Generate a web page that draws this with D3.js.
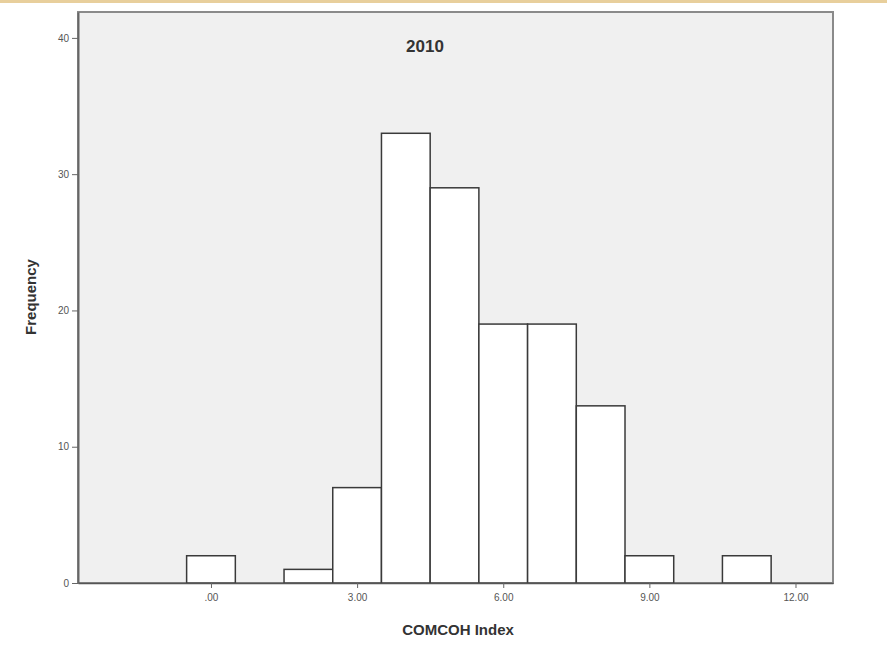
<!DOCTYPE html>
<html>
<head>
<meta charset="utf-8">
<script src="https://cdn.jsdelivr.net/npm/d3@7"></script>
<style>
  body { margin: 0; background: #fff; }
  svg { display: block; font-family: Arial, "Liberation Sans", sans-serif; }
</style>
</head>
<body>
<div id="chart"></div>
<script>
// Histogram bins (bin centre on COMCOH Index) and frequencies
const binCenters = [0, 1, 2, 3, 4, 5, 6, 7, 8, 9, 10, 11];
const frequencies = [2, 0, 1, 7, 33, 29, 19, 19, 13, 2, 0, 2];
const xTicks = [0, 3, 6, 9, 12];
const xTickLabels = ['.00', '3.00', '6.00', '9.00', '12.00'];
const yTicks = [0, 10, 20, 30, 40];

const width = 887;
const height = 655;
const margin = { top: 12, right: 54, bottom: 72, left: 78 };

const svg = d3.select('#chart')
    .append('svg')
    .attr('width', width)
    .attr('height', height);

// thin band along the top edge
svg.append('rect')
    .attr('x', 0).attr('y', 0)
    .attr('width', width).attr('height', 3)
    .attr('fill', '#e8cf9c');

const xScale = d3.scaleLinear()
    .domain([-2.73, 12.77])
    .range([margin.left, width - margin.right]);

const yScale = d3.scaleLinear()
    .domain([0, 41.9])
    .range([height - margin.bottom, margin.top]);

// plot area
svg.append('rect')
    .attr('x', margin.left)
    .attr('y', margin.top)
    .attr('width', width - margin.left - margin.right)
    .attr('height', height - margin.top - margin.bottom)
    .attr('fill', '#f0f0f0')
    .attr('stroke', '#8a8a8a')
    .attr('stroke-width', 2);

// bars
svg.selectAll('rect.bar')
    .data(binCenters.map((c, i) => ({ c, f: frequencies[i] })).filter(d => d.f > 0))
    .enter()
    .append('rect')
    .attr('class', 'bar')
    .attr('x', d => xScale(d.c - 0.5))
    .attr('y', d => yScale(d.f))
    .attr('width', d => xScale(d.c + 0.5) - xScale(d.c - 0.5))
    .attr('height', d => yScale(0) - yScale(d.f))
    .attr('fill', '#ffffff')
    .attr('stroke', '#3a3a3a')
    .attr('stroke-width', 1.5);

// x-axis
const xAxis = d3.axisBottom(xScale)
    .tickValues(xTicks)
    .tickFormat((d, i) => xTickLabels[i])
    .tickSizeInner(5)
    .tickSizeOuter(0)
    .tickPadding(6);
const gx = svg.append('g')
    .attr('transform', `translate(0, ${yScale(0)})`)
    .call(xAxis);
gx.select('.domain').attr('stroke', '#555').attr('stroke-width', 1.5);

// y-axis
const yAxis = d3.axisLeft(yScale)
    .tickValues(yTicks)
    .tickSizeInner(6)
    .tickSizeOuter(0)
    .tickPadding(3);
const gy = svg.append('g')
    .attr('transform', `translate(${margin.left}, 0)`)
    .call(yAxis);
gy.select('.domain').attr('stroke', '#666').attr('stroke-width', 2);

svg.selectAll('.tick line').attr('stroke', '#666');
svg.selectAll('.tick text')
    .attr('fill', '#555')
    .style('font-size', '10px');

// title and labels
svg.append('text')
    .attr('x', 425)
    .attr('y', 52)
    .style('text-anchor', 'middle')
    .style('font-size', '17px')
    .style('font-weight', 'bold')
    .attr('fill', '#333')
    .text('2010');

svg.append('text')
    .attr('x', 458)
    .attr('y', 635)
    .style('text-anchor', 'middle')
    .style('font-size', '15px')
    .style('font-weight', 'bold')
    .attr('fill', '#333')
    .text('COMCOH Index');

svg.append('text')
    .attr('transform', 'rotate(-90)')
    .attr('x', -297)
    .attr('y', 36)
    .style('text-anchor', 'middle')
    .style('font-size', '15px')
    .style('font-weight', 'bold')
    .attr('fill', '#333')
    .text('Frequency');
</script>
</body>
</html>
